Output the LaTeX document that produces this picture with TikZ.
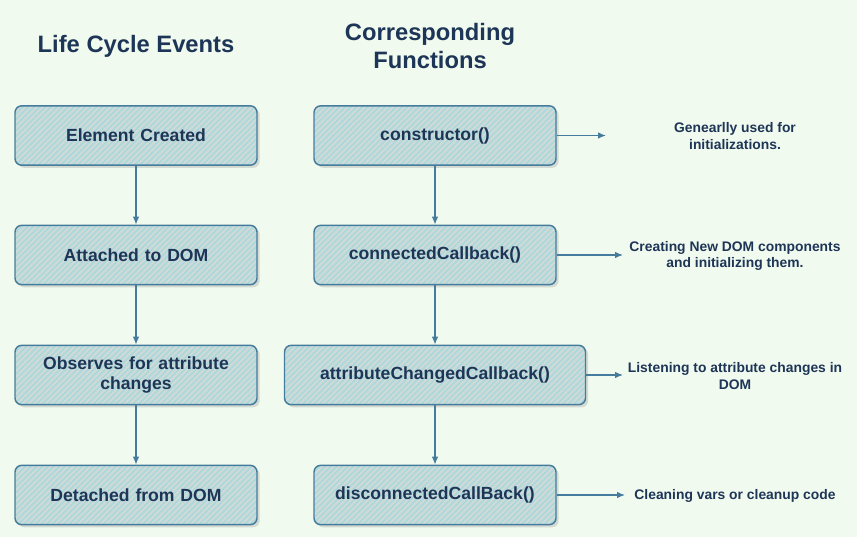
\documentclass[tikz,border=0pt]{standalone}
\usepackage{fontspec}
\setmainfont{Liberation Sans}
\usetikzlibrary{patterns.meta,arrows.meta,shadows}
\definecolor{bgc}{HTML}{F1FAEE}
\definecolor{fillc}{HTML}{A8DADC}
\definecolor{basec}{HTML}{D0D9D8}
\definecolor{strokec}{HTML}{457B9D}
\definecolor{fontc}{HTML}{1D3557}
\tikzset{
  px/.style={x=0.75pt,y=-0.75pt},
  box/.style={draw=strokec, line width=1.1pt, rounded corners=5pt,
    minimum width=181.5pt, minimum height=44.5pt, inner sep=2pt,
    align=center, text=fontc, font=\bfseries\fontsize{13.2}{15}\selectfont,
    text width=175pt,
    preaction={fill=basec, drop shadow={opacity=0.25, shadow xshift=2pt, shadow yshift=-2pt}},
    pattern={Lines[angle=45,distance=3pt,line width=1.2pt]}, pattern color=fillc},
  widebox/.style={box, minimum width=225.75pt, text width=215pt},
  title/.style={text=fontc, font=\bfseries\fontsize{17.8}{20.5}\selectfont, align=center},
  note/.style={text=fontc, font=\bfseries\fontsize{10.4}{12.4}\selectfont, align=center},
  conn/.style={draw=strokec, line width=1pt, -{Latex[length=6pt,width=5pt]}},
}
\begin{document}
\begin{tikzpicture}[px]
\useasboundingbox (0,0) rectangle (857,537);
\fill[bgc] (0,0) rectangle (857,537);
\node[title] (t1) at (136,46) {Life Cycle Events};
\node[title] (t2) at (430,46) {Corresponding\\Functions};
\node[box] (l1) at (136,135.5) {Element Created};
\node[box] (l2) at (136,255) {Attached to DOM};
\node[box] (l3) at (136,375) {Observes for attribute\\changes};
\node[box] (l4) at (136,495) {Detached from DOM};
\node[box] (r1) at (435,135.5) {constructor()};
\node[box] (r2) at (435,255) {connectedCallback()};
\node[widebox] (r3) at (435,375) {attributeChangedCallback()};
\node[box] (r4) at (435,495) {disconnectedCallBack()};
\draw[conn] (l1) -- (l2);
\draw[conn] (l2) -- (l3);
\draw[conn] (l3) -- (l4);
\draw[conn] (r1) -- (r2);
\draw[conn] (r2) -- (r3);
\draw[conn] (r3) -- (r4);
\node[note] (n1) at (735,136) {Genearlly used for\\initializations.};
\node[note] (n2) at (735,256) {Creating New DOM components\\and initializing them.};
\node[note] (n3) at (735,376) {Listening to attribute changes in\\DOM};
\node[note] (n4) at (735,496) {Cleaning vars or cleanup code};
\coordinate (e1) at (606,135.5);
\coordinate (e2) at (623,255);
\coordinate (e3) at (623,375);
\coordinate (e4) at (625,495);
\draw[conn] (r1.east) -- (e1);
\draw[conn] (r2.east) -- (e2);
\draw[conn] (r3.east) -- (e3);
\draw[conn] (r4.east) -- (e4);
\end{tikzpicture}
\end{document}
